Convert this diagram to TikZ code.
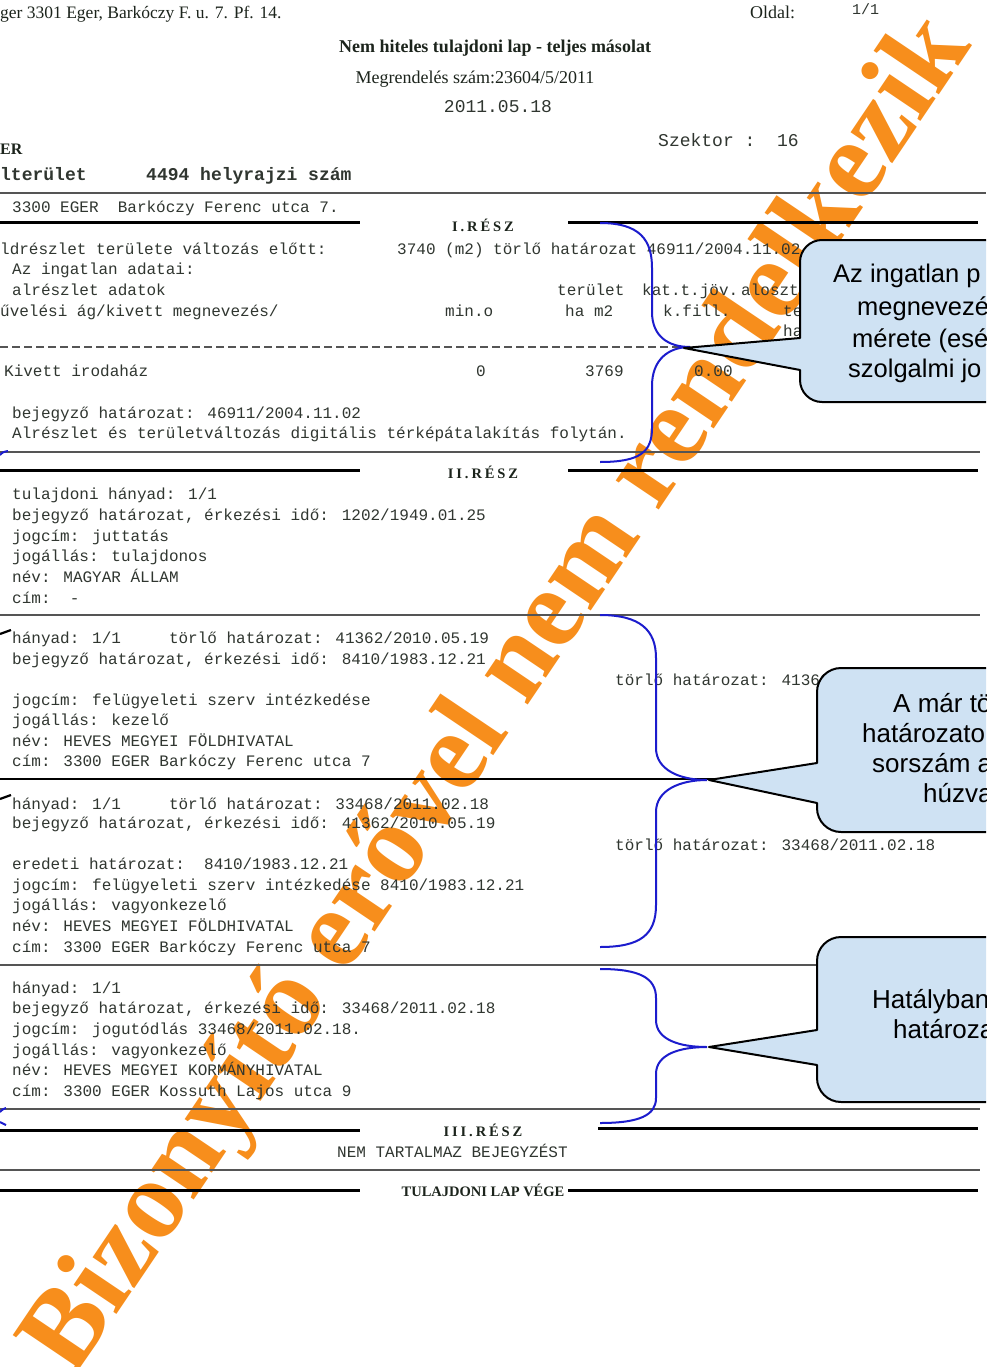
\documentclass[tikz,border=0pt]{standalone}
\usepackage{fontspec}
\setmainfont{Liberation Serif}
\newfontfamily\monof{Liberation Mono}
\newfontfamily\sansf{Liberation Sans}
\definecolor{txt}{RGB}{48,54,48}
\definecolor{hdr}{RGB}{28,36,28}
\definecolor{wm}{RGB}{247,142,28}
\definecolor{brc}{RGB}{28,28,205}
\definecolor{cfill}{RGB}{207,226,243}
\definecolor{rule}{RGB}{85,85,85}
\begin{document}
\begin{tikzpicture}[x=1pt,y=-1pt,
  mt/.style={anchor=base west, inner sep=0, font=\monof\fontsize{16}{16}\selectfont, text=txt},
  mbig/.style={anchor=base west, inner sep=0, font=\monof\fontsize{18}{18}\selectfont, text=txt},
  sf/.style={anchor=base west, inner sep=0, font=\fontsize{18}{18}\selectfont, text=hdr},
  part/.style={anchor=base, inner sep=0, font=\bfseries\fontsize{14.5}{14.5}\selectfont\addfontfeatures{LetterSpace=20}, text=hdr},
  thinrule/.style={draw=rule, line width=1.6pt},
  thickrule/.style={draw=black, line width=3pt},
  bracestyle/.style={draw=brc, line width=2pt},
  callbox/.style={draw=black, line width=2pt, fill=cfill, line join=round},
  ct/.style={anchor=base west, inner sep=0, font=\sansf\fontsize{26}{26}\selectfont, text=black},
  tickmark/.style={draw=black, line width=2.2pt}
]
\useasboundingbox (0,0) rectangle (986,1367);
\clip (0,0) rectangle (986,1367);
\fill[white] (0,0) rectangle (986,1367);

% watermark
\node[rotate=56, inner sep=0, text=wm, font=\bfseries\fontsize{113}{113}\selectfont] (wmk) at (500,697) {Bizonyító erővel nem rendelkezik};

% header
\node[sf, font=\fontsize{17.5}{17.5}\selectfont] (h1) at (0,19) {ger 3301 Eger, Barkóczy F. u. 7. Pf. 14.};
\node[sf] (h2) at (750,19) {Oldal:};
\node[mt, font=\monof\fontsize{15}{15}\selectfont] (h3) at (852,15) {1/1};
\node[anchor=base, inner sep=0, font=\bfseries\fontsize{18}{18}\selectfont, text=hdr] (h4) at (495,53) {Nem hiteles tulajdoni lap - teljes másolat};
\node[anchor=base, inner sep=0, font=\fontsize{18}{18}\selectfont, text=hdr] (h5) at (475,84) {Megrendelés szám:23604/5/2011};
\node[anchor=base, inner sep=0, font=\monof\fontsize{18}{18}\selectfont, text=txt] (h6) at (498,113) {2011.05.18};
\node[mbig] (h7) at (658,147) {Szektor :~~16};
\node[sf, font=\bfseries\fontsize{16}{16}\selectfont] (h8) at (0,155) {ER};
\node[mbig, font=\monof\bfseries\fontsize{18}{18}\selectfont] (h9) at (0,181) {lterület};
\node[mbig, font=\monof\bfseries\fontsize{18}{18}\selectfont] (h10) at (146,181) {4494 helyrajzi szám};

\coordinate (r0a) at (0,193); \coordinate (r0b) at (986,193);
\draw[thinrule] (r0a) -- (r0b);
\node[mt] (a1) at (12,212) {3300 EGER~~Barkóczy Ferenc utca 7.};

% I. resz
\coordinate (t1a) at (0,222); \coordinate (t1b) at (360,222);
\coordinate (t1c) at (568,222); \coordinate (t1d) at (978,222);
\draw[thickrule] (t1a) -- (t1b); \draw[thickrule] (t1c) -- (t1d);
\node[part] (p1) at (483,231) {I.RÉSZ};

\node[mt] (s1) at (0,254) {ldrészlet területe változás előtt:};
\node[mt] (s2) at (397,254) {3740 (m2) törlő határozat 46911/2004.11.02};
\node[mt] (s3) at (12,274) {Az ingatlan adatai:};
\node[mt] (s4) at (12,295) {alrészlet adatok};
\node[mt] (s5) at (557,295) {terület};
\node[mt] (s6) at (642,295) {kat.t.jöv.};
\node[mt] (s7) at (741,295) {alosztás};
\node[mt] (s8) at (0,316) {űvelési ág/kivett megnevezés/};
\node[mt] (s9) at (445,316) {min.o};
\node[mt] (s10) at (565,316) {ha m2};
\node[mt] (s11) at (663,316) {k.fill.};
\node[mt] (s12) at (783,316) {terület};
\node[mt] (s13) at (783,336) {ha m2};
\coordinate (dla) at (0,347); \coordinate (dlb) at (688,347);
\draw[draw=rule, line width=1.5pt, dash pattern=on 8pt off 4pt] (dla) -- (dlb);
\node[mt] (s14) at (4,376) {Kivett irodaház};
\node[mt] (s15) at (476,376) {0};
\node[mt] (s16) at (585,376) {3769};
\node[mt] (s17) at (694,376) {0.00};
\node[mt] (s18) at (12,418) {bejegyző határozat: 46911/2004.11.02};
\node[mt] (s19) at (12,438) {Alrészlet és területváltozás digitális térképátalakítás folytán.};
\coordinate (r1a) at (0,452); \coordinate (r1b) at (980,452);
\draw[thinrule] (r1a) -- (r1b);

% II. resz
\coordinate (t2a) at (0,470); \coordinate (t2b) at (360,470);
\coordinate (t2c) at (568,470); \coordinate (t2d) at (978,470);
\draw[thickrule] (t2a) -- (t2b); \draw[thickrule] (t2c) -- (t2d);
\node[part] (p2) at (483,478) {II.RÉSZ};

\node[mt] (b1) at (12,499) {tulajdoni hányad: 1/1};
\node[mt] (b2) at (12,520) {bejegyző határozat, érkezési idő: 1202/1949.01.25};
\node[mt] (b3) at (12,541) {jogcím: juttatás};
\node[mt] (b4) at (12,561) {jogállás: tulajdonos};
\node[mt] (b5) at (12,582) {név: MAGYAR ÁLLAM};
\node[mt] (b6) at (12,603) {cím:~~-};
\coordinate (r2a) at (0,615); \coordinate (r2b) at (980,615);
\draw[thinrule] (r2a) -- (r2b);

\coordinate (k1a) at (0,634); \coordinate (k1b) at (11,630);
\draw[tickmark] (k1a) -- (k1b);
\node[mt] (c1) at (12,643) {hányad: 1/1~~~~~törlő határozat: 41362/2010.05.19};
\node[mt] (c2) at (12,664) {bejegyző határozat, érkezési idő: 8410/1983.12.21};
\node[mt] (c3) at (12,705) {jogcím: felügyeleti szerv intézkedése};
\node[mt] (c4) at (12,725) {jogállás: kezelő};
\node[mt] (c5) at (12,746) {név: HEVES MEGYEI FÖLDHIVATAL};
\node[mt] (c6) at (12,766) {cím: 3300 EGER Barkóczy Ferenc utca 7};
\node[mt] (c7) at (615,685) {törlő határozat: 41362/2010.05.19};
\coordinate (r3a) at (0,779); \coordinate (r3b) at (986,779);
\draw[draw=black, line width=1.4pt] (r3a) -- (r3b);

\coordinate (k2a) at (0,799); \coordinate (k2b) at (11,795);
\draw[tickmark] (k2a) -- (k2b);
\node[mt] (d1) at (12,809) {hányad: 1/1~~~~~törlő határozat: 33468/2011.02.18};
\node[mt] (d2) at (12,828) {bejegyző határozat, érkezési idő: 41362/2010.05.19};
\node[mt] (d3) at (12,869) {eredeti határozat:~~8410/1983.12.21};
\node[mt] (d4) at (12,890) {jogcím: felügyeleti szerv intézkedése 8410/1983.12.21};
\node[mt] (d5) at (12,910) {jogállás: vagyonkezelő};
\node[mt] (d6) at (12,931) {név: HEVES MEGYEI FÖLDHIVATAL};
\node[mt] (d7) at (12,952) {cím: 3300 EGER Barkóczy Ferenc utca 7};
\node[mt] (d8) at (615,850) {törlő határozat: 33468/2011.02.18};
\coordinate (r4a) at (0,965); \coordinate (r4b) at (980,965);
\draw[thinrule] (r4a) -- (r4b);

\node[mt] (e1) at (12,993) {hányad: 1/1};
\node[mt] (e2) at (12,1013) {bejegyző határozat, érkezési idő: 33468/2011.02.18};
\node[mt] (e3) at (12,1034) {jogcím: jogutódlás 33468/2011.02.18.};
\node[mt] (e4) at (12,1055) {jogállás: vagyonkezelő};
\node[mt] (e5) at (12,1075) {név: HEVES MEGYEI KORMÁNYHIVATAL};
\node[mt] (e6) at (12,1096) {cím: 3300 EGER Kossuth Lajos utca 9};
\coordinate (r5a) at (0,1109); \coordinate (r5b) at (980,1109);
\draw[thinrule] (r5a) -- (r5b);

% III. resz
\coordinate (t3a) at (0,1130); \coordinate (t3b) at (360,1130);
\coordinate (t3c) at (598,1128); \coordinate (t3d) at (978,1128);
\draw[thickrule] (t3a) -- (t3b); \draw[thickrule] (t3c) -- (t3d);
\node[part] (p3) at (483,1136) {III.RÉSZ};
\node[mt] (f1) at (337,1157) {NEM TARTALMAZ BEJEGYZÉST};
\coordinate (r6a) at (0,1170); \coordinate (r6b) at (980,1170);
\draw[thinrule] (r6a) -- (r6b);
\coordinate (t4a) at (0,1190); \coordinate (t4b) at (360,1190);
\coordinate (t4c) at (568,1190); \coordinate (t4d) at (978,1190);
\draw[thickrule] (t4a) -- (t4b); \draw[thickrule] (t4c) -- (t4d);
\node[anchor=base, inner sep=0, font=\bfseries\fontsize{14.5}{14.5}\selectfont, text=hdr, fill=white, inner xsep=2pt] (p4) at (483,1196) {TULAJDONI LAP VÉGE};

% small blue marks on the left edge
\draw[bracestyle] (0,455) .. controls (3,452) .. (8,451);
\draw[bracestyle] (0,1112) .. controls (3,1109) .. (6,1108);
\draw[bracestyle] (0,1122) .. controls (3,1124) .. (6,1125);

% braces
\draw[bracestyle] (600,223) .. controls (640,223) and (652,240) .. (652,268) -- (652,312)
  .. controls (652,336) and (668,347) .. (690,347)
  .. controls (668,347) and (652,360) .. (652,386) -- (652,428)
  .. controls (652,452) and (640,462) .. (600,462);
\draw[bracestyle] (600,615) .. controls (640,615) and (656,630) .. (656,658) -- (656,748)
  .. controls (656,770) and (680,780) .. (707,780)
  .. controls (680,780) and (656,790) .. (656,812) -- (656,905)
  .. controls (656,935) and (640,947) .. (600,947);
\draw[bracestyle] (600,969) .. controls (640,969) and (656,978) .. (656,998) -- (656,1020)
  .. controls (656,1040) and (680,1047) .. (707,1047)
  .. controls (680,1047) and (656,1054) .. (656,1074) -- (656,1098)
  .. controls (656,1115) and (640,1123) .. (600,1123);

% callouts
\coordinate (tip1) at (684,348);
\coordinate (tip2) at (709,780);
\coordinate (tip3) at (709,1047);
\draw[callbox] (1010,240) -- (822,240) arc[start angle=270, end angle=180, radius=22]
  -- (800,338) -- (tip1) -- (800,370) -- (800,380) arc[start angle=180, end angle=90, radius=22]
  -- (1010,402) -- cycle;
\draw[callbox] (1010,668) -- (841,668) arc[start angle=270, end angle=180, radius=24]
  -- (817,763) -- (tip2) -- (817,803) -- (817,808) arc[start angle=180, end angle=90, radius=24]
  -- (1010,832) -- cycle;
\draw[callbox] (1010,937) -- (841,937) arc[start angle=270, end angle=180, radius=24]
  -- (817,1030) -- (tip3) -- (817,1065) -- (817,1078) arc[start angle=180, end angle=90, radius=24]
  -- (1010,1102) -- cycle;

\node[ct, font=\sansf\fontsize{25.5}{25.5}\selectfont] (q1) at (833,282) {Az ingatlan p};
\node[ct, font=\sansf\fontsize{25.5}{25.5}\selectfont] (q2) at (857,315) {megnevezé};
\node[ct, font=\sansf\fontsize{25.5}{25.5}\selectfont] (q3) at (852,347) {mérete (esé};
\node[ct, font=\sansf\fontsize{25.5}{25.5}\selectfont] (q4) at (848,377) {szolgalmi jo};
\node[ct] (q5) at (893,712) {A már tö};
\node[ct] (q6) at (862,742) {határozato};
\node[ct] (q7) at (872,772) {sorszám a};
\node[ct] (q8) at (923,802) {húzva};
\node[ct] (q9) at (872,1008) {Hatályban};
\node[ct] (q10) at (893,1038) {határoza};
\end{tikzpicture}
\end{document}
